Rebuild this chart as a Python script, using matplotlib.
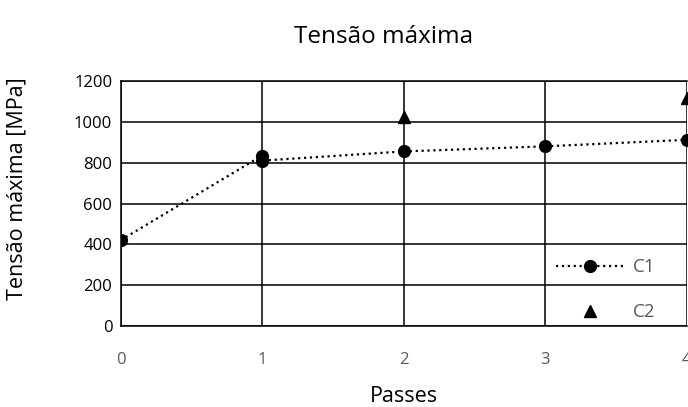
import numpy as np
import matplotlib.pyplot as plt

# Tensão máxima por número de passes
passes_c1 = [0, 1, 1, 2, 3, 4]
tensao_c1 = [420, 835, 810, 855, 880, 912]
passes_c2 = [2, 4]
tensao_c2 = [1025, 1118]

y_ticks = [0, 200, 400, 600, 800, 1000, 1200]
x_ticks = [0, 1, 2, 3, 4]

plt.rcParams['font.family'] = ['Open Sans', 'DejaVu Sans']

fig = plt.figure(figsize=(6.88, 4.07), dpi=100)
ax = fig.add_axes([0.1753, 0.199, 0.823, 0.602])

ax.plot(passes_c1, tensao_c1, linestyle=':', color='black', linewidth=1.6,
        marker='o', markersize=8.5, markerfacecolor='black',
        markeredgecolor='black', label='C1')
ax.plot(passes_c2, tensao_c2, linestyle='none', color='black',
        marker='^', markersize=9, label='C2')

ax.set_xlim(0, 4)
ax.set_ylim(0, 1200)
ax.set_xticks(x_ticks)
ax.set_yticks(y_ticks)
ax.grid(True, color='black', linewidth=1.1)
ax.set_axisbelow(True)
ax.tick_params(length=0, labelsize=12)
ax.tick_params(axis='x', colors='#595959', pad=19)
ax.tick_params(axis='y', colors='black', pad=6)
for s in ['left', 'bottom', 'top']:
    ax.spines[s].set_linewidth(1.1)
ax.spines['right'].set_visible(False)

ax.set_title('Tensão máxima', fontsize=17.5, pad=27, x=0.465)
ax.set_xlabel('Passes', fontsize=15.5)
ax.xaxis.set_label_coords(0.5, -0.245)
ax.set_ylabel('Tensão máxima [MPa]', fontsize=15.5)
ax.yaxis.set_label_coords(-0.165, 0.56)

leg = ax.legend(loc='lower right', frameon=False, fontsize=13.5,
                handlelength=3.6, handletextpad=0.5, labelspacing=1.45,
                bbox_to_anchor=(0.975, -0.05))
for t in leg.get_texts():
    t.set_color('#595959')

fig.savefig('out.png', dpi=100)
